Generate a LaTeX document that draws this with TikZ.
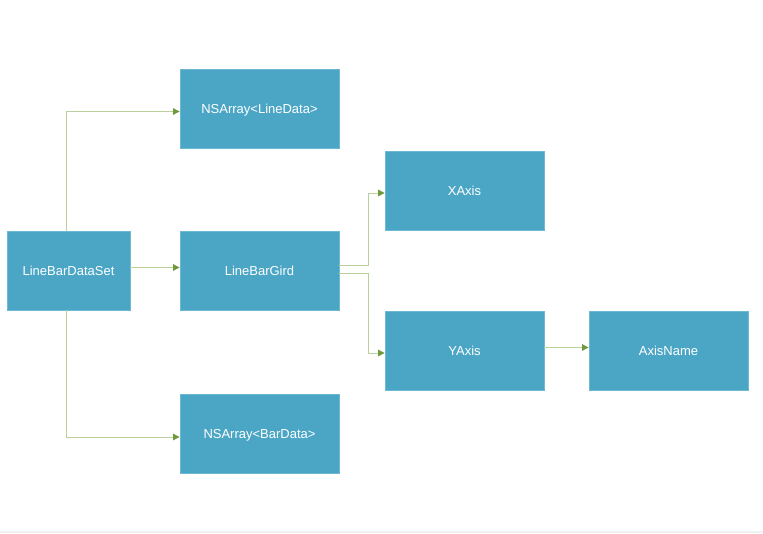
\documentclass[tikz,border=0pt]{standalone}
\usepackage{fontspec}
\setmainfont{Liberation Sans}
\usetikzlibrary{arrows.meta}
\definecolor{boxfill}{HTML}{4BA6C6}
\definecolor{boxline}{HTML}{6DB9D5}
\definecolor{linkc}{HTML}{B9D09A}
\definecolor{tipc}{HTML}{6E9A3C}
\definecolor{footc}{HTML}{F0F0F0}
\tikzset{
  box/.style={draw=boxline, fill=boxfill, text=white, minimum width=159pt, minimum height=79pt, inner sep=0pt, font=\fontsize{13}{15}\selectfont, text height=9.4pt, text depth=0pt, line width=0.8pt},
  link/.style={draw=linkc, line width=0.9pt, -{Triangle[length=6.5pt,width=6.5pt,fill=tipc,color=tipc]}}
}
\begin{document}
\begin{tikzpicture}[x=1pt,y=-1pt]
\useasboundingbox (0,0) rectangle (763,533);
\fill[footc] (0,530.5) rectangle (763,533);
\node[box, minimum width=123pt] (ds) at (68.5,270.5) {LineBarDataSet};
\node[box] (ld) at (259.5,108.5) {NSArray<LineData>};
\node[box] (gird) at (259.5,270.5) {LineBarGird};
\node[box] (bd) at (259.5,434) {NSArray<BarData>};
\node[box] (xa) at (464.5,190.5) {XAxis};
\node[box] (ya) at (464.5,350.5) {YAxis};
\node[box] (an) at (668.5,350.5) {AxisName};
\coordinate (c1) at (66,111.5);
\coordinate (c2) at (66,437);
\draw[link] (ds.north -| c1) -- (c1) -- (c1 -| ld.west);
\draw[link] (ds.south -| c2) -- (c2) -- (c2 -| bd.west);
\draw[link] (ds.east |- 0,267.5) -- (gird.west |- 0,267.5);
\draw[link] (gird.east |- 0,265.5) -- (368,265.5) -- (368,193) -- (xa.west |- 0,193);
\draw[link] (gird.east |- 0,273.5) -- (368,273.5) -- (368,353) -- (ya.west |- 0,353);
\draw[link] (ya.east |- 0,347.5) -- (an.west |- 0,347.5);
\end{tikzpicture}
\end{document}
